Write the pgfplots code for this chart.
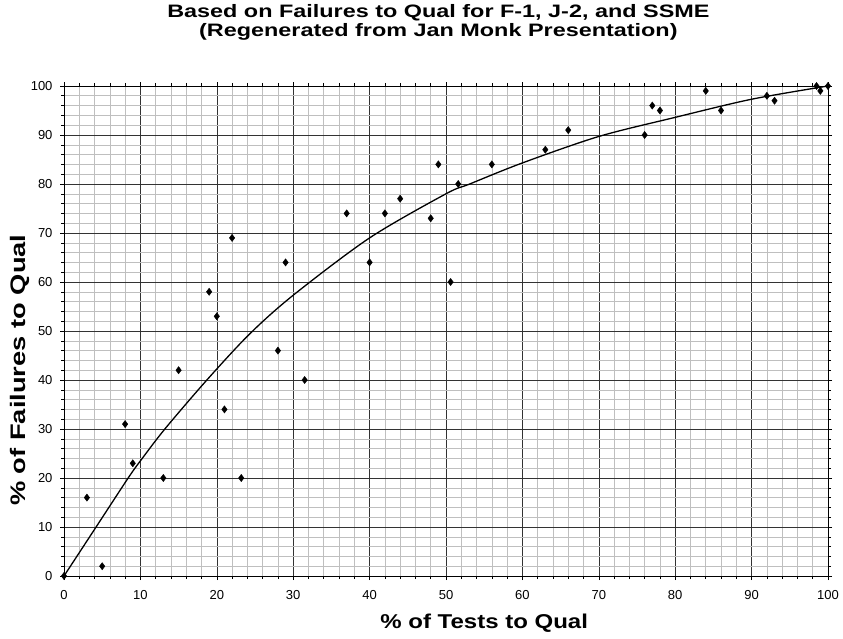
\documentclass[border=0pt]{standalone}
\usepackage{fontspec}
\setmainfont{Liberation Sans}
\usepackage{pgfplots}
\pgfplotsset{compat=1.18}
\begin{document}
\begin{tikzpicture}
\useasboundingbox (-64pt,-62pt) rectangle (779pt,576pt);
\begin{axis}[
  at={(0pt,0pt)}, anchor=south west,
  scale only axis, width=764pt, height=490pt,
  xmin=0, xmax=100, ymin=0, ymax=100,
  xtick={0,10,...,100}, ytick={0,10,...,100},
  minor tick num=4,
  grid=both,
  major grid style={black!80, line width=0.6pt},
  minor grid style={black!25, line width=0.6pt},
  tick align=outside, major tick length=4pt, minor tick length=3pt,
  tick style={black, line width=0.6pt},
  axis line style={black, line width=0.8pt},
  /pgf/number format/assume math mode=true,
  ticklabel style={font=\fontsize{13}{15}\selectfont},
  xticklabel style={yshift=-7pt},
  yticklabel style={xshift=-4pt},
  xlabel={\% of Tests to Qual},
  ylabel={\% of Failures to Qual},
  xlabel style={font=\fontsize{20}{24}\bfseries\selectfont, xscale=1.2,
    at={(axis description cs:0.55,-0.0959)}, anchor=center},
  ylabel style={font=\fontsize{21}{24}\bfseries\selectfont, xscale=1.3,
    at={(axis description cs:-0.0576,0.42)}, anchor=center},
  title={Based on Failures to Qual for F-1, J-2, and SSME\\(Regenerated from Jan Monk Presentation)},
  title style={font=\fontsize{18}{19}\bfseries\selectfont, align=center, xscale=1.3,
    at={(axis description cs:0.49,1.118)}, anchor=center},
]
\addplot[black, line width=1.3pt, smooth] coordinates {
  (0,0) (4.2,10) (8.4,20) (10,23.5) (13.2,30) (18.7,40) (24.3,49.4)
  (30,57.3) (40,69) (50,78) (53.1,80) (60,84.3) (70,89.7)
  (80,93.6) (90,97.3) (100,100)
};
\addplot[only marks, mark=diamond*, mark size=3.6pt, black] coordinates {
  (0,0) (3,16) (5,2) (8,31) (9,23) (13,20) (15,42) (19,58) (20,53)
  (21,34) (22,69) (23.2,20) (28,46) (29,64) (31.5,40) (37,74) (40,64)
  (42,74) (44,77) (48,73) (49,84) (50.6,60) (51.6,80) (56,84) (63,87)
  (66,91) (76,90) (77,96) (78,95) (84,99) (86,95) (92,98) (93,97)
  (98.5,100) (99,99) (100,100)
};
\end{axis}
\end{tikzpicture}
\end{document}
